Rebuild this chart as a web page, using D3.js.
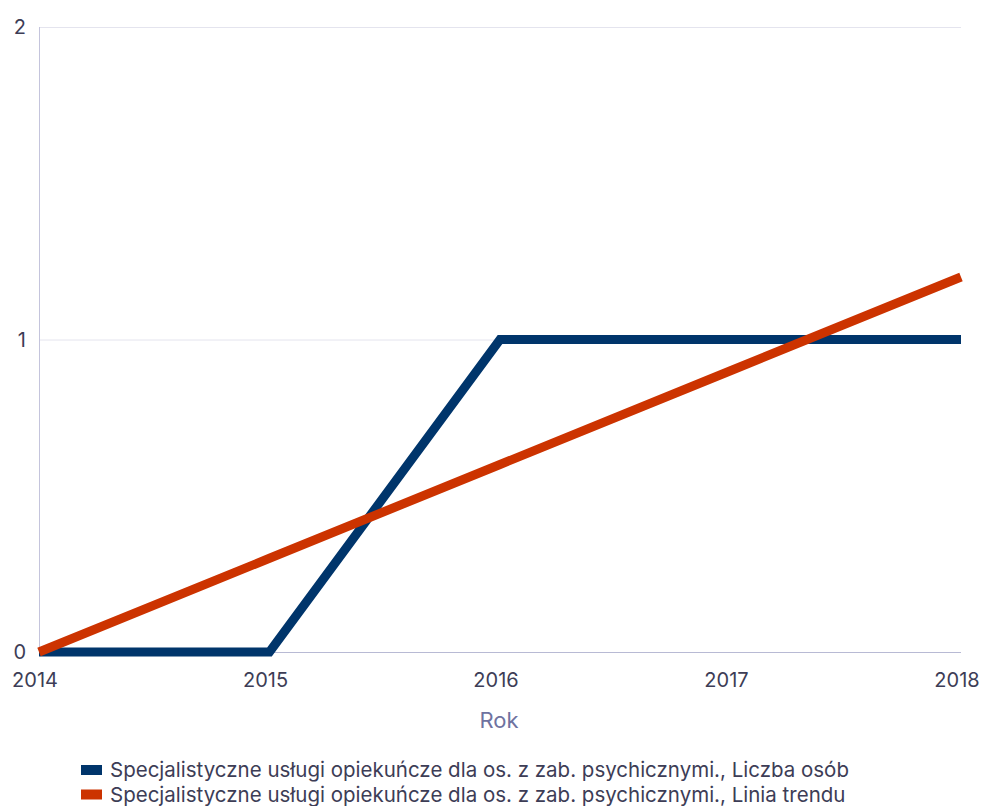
<!DOCTYPE html>
<html>
<head>
<meta charset="utf-8">
<script src="https://cdn.jsdelivr.net/npm/d3@7"></script>
<style>
  body { margin: 0; background: #fff; }
  text { font-family: Inter, sans-serif; }
</style>
</head>
<body>
<div id="chart"></div>
<script>
// data
const years = [2014, 2015, 2016, 2017, 2018];
const liczbaOsob = [0, 0, 1, 1, 1];
const liniaTrendu = [0, 0.3, 0.6, 0.9, 1.2];
const yTicks = [0, 1, 2];
const seriesNames = [
    "Specjalistyczne usługi opiekuńcze dla os. z zab. psychicznymi., Liczba osób",
    "Specjalistyczne usługi opiekuńcze dla os. z zab. psychicznymi., Linia trendu"
];
const colors = ["#00356b", "#cc3300"];

const width = 984, height = 806;
const margin = {left: 39, right: 23, top: 27, bottom: 154};

const svg = d3.select("#chart").append("svg")
    .attr("width", width)
    .attr("height", height);

const x = d3.scaleLinear()
    .domain([2014, 2018])
    .range([margin.left, width - margin.right]);

const y = d3.scaleLinear()
    .domain([0, 2])
    .range([height - margin.bottom, margin.top]);

// gridlines
svg.append("g")
    .selectAll("line")
    .data(yTicks.filter(d => d > 0))
    .enter()
    .append("line")
    .attr("x1", x(2014))
    .attr("x2", x(2018))
    .attr("y1", d => y(d) + 0.5)
    .attr("y2", d => y(d) + 0.5)
    .attr("stroke", "#e4e4ee");

// axis lines
svg.append("line")
    .attr("x1", x(2014) + 0.5).attr("x2", x(2014) + 0.5)
    .attr("y1", y(2)).attr("y2", y(0))
    .attr("stroke", "#c4c4dc");
svg.append("line")
    .attr("x1", x(2014)).attr("x2", x(2018))
    .attr("y1", y(0) + 0.5).attr("y2", y(0) + 0.5)
    .attr("stroke", "#b8bad4");

// y labels
svg.append("g")
    .selectAll("text")
    .data(yTicks)
    .enter()
    .append("text")
    .attr("x", 26)
    .attr("y", d => Math.max(y(d) + 7, 32))
    .attr("text-anchor", "end")
    .attr("font-size", 20)
    .attr("fill", "#3d3d56")
    .text(d => d);

// x labels
svg.append("g")
    .selectAll("text")
    .data(years)
    .enter()
    .append("text")
    .attr("x", d => x(d) - 4)
    .attr("y", 687)
    .attr("text-anchor", "middle")
    .attr("font-size", 20)
    .attr("fill", "#3d3d56")
    .text(d => d);

svg.append("text")
    .attr("x", (x(2014) + x(2018)) / 2 - 1)
    .attr("y", 728)
    .attr("text-anchor", "middle")
    .attr("font-size", 22)
    .attr("fill", "#6e72a0")
    .text("Rok");

// lines
const line = d3.line()
    .x((d, i) => x(years[i]))
    .y(d => y(d));

[liczbaOsob, liniaTrendu].forEach(function(s, i) {
    svg.append("path")
        .datum(s)
        .attr("d", line)
        .attr("fill", "none")
        .attr("stroke", colors[i])
        .attr("stroke-width", 9);
});

// legend
const legend = svg.append("g")
    .selectAll("g")
    .data(seriesNames)
    .enter()
    .append("g")
    .attr("transform", (d, i) => `translate(81, ${765 + i * 24.5})`);

legend.append("rect")
    .attr("width", 21)
    .attr("height", 10)
    .attr("fill", (d, i) => colors[i]);

legend.append("text")
    .attr("x", 29)
    .attr("y", 12)
    .attr("font-size", 20.5)
    .attr("fill", "#3d3d56")
    .text(d => d);
</script>
</body>
</html>
